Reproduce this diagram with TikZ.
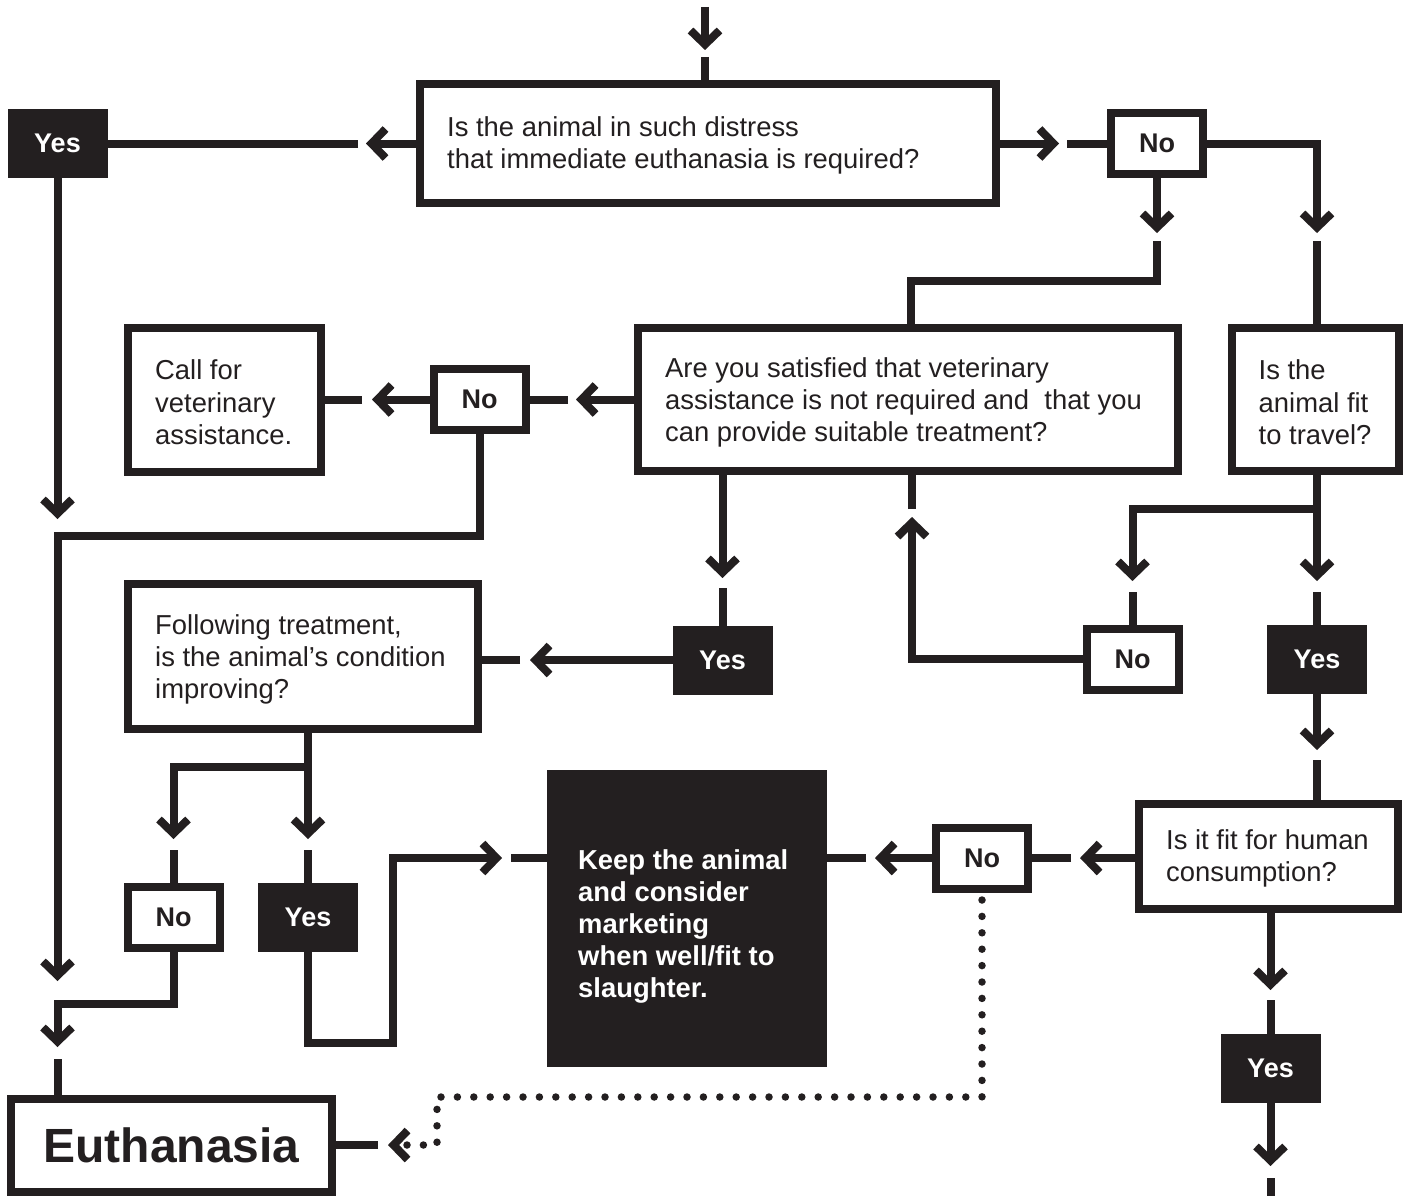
\documentclass[tikz,border=0pt]{standalone}
\usepackage{fontspec}
\setmainfont{Liberation Sans}
\usetikzlibrary{arrows.meta,calc}
\definecolor{ink}{RGB}{35,31,32}
\begin{document}
\begin{tikzpicture}[x=1pt,y=-1pt,
  ln/.style={draw=ink, line width=8pt},
  chev/.style={ln, -{Straight Barb[length=14pt,width=29pt,sharp]}},
  dots/.style={draw=ink, line width=7.5pt, line cap=round, dash pattern=on 0pt off 16.4pt,
     -{Straight Barb[length=14pt,width=29pt,sharp,line width=8pt]}},
  wbox/.style={draw=ink, line width=8pt, fill=white, inner sep=0pt},
  bbox/.style={draw=ink, line width=8pt, fill=ink, inner sep=0pt},
  small/.style={minimum width=92pt, minimum height=61pt, font=\bfseries\fontsize{27}{32}\selectfont},
  txt/.style={align=left, inner sep=0pt, text=ink, font=\fontsize{27.4}{32.3}\selectfont},
  wtxt/.style={align=left, inner sep=0pt, text=white, font=\bfseries\fontsize{27.4}{32}\selectfont}
]
\useasboundingbox (0,0) rectangle (1407,1196);

% ---------- boxes ----------
\node[wbox, minimum width=576pt, minimum height=119pt] (q1) at (708,143.5) {};
\node[txt, anchor=west] (q1t) at ([xshift=31pt,yshift=-2pt]q1.west) {Is the animal in such distress\\that immediate euthanasia is required?};

\node[bbox, small, text=white] (yes1) at (57.5,143.5) {Yes};
\node[wbox, small, text=ink] (no1) at (1157,143.5) {No};

\node[wbox, minimum width=540pt, minimum height=143pt] (q2) at (908,399.5) {};
\node[txt, anchor=west] (q2t) at ([xshift=31pt,yshift=-3pt]q2.west) {Are you satisfied that veterinary\\assistance is not required and~ that you\\can provide suitable treatment?};

\node[wbox, minimum width=167pt, minimum height=143pt] (q3) at (1315,399.5) {};
\node[txt, anchor=west] (q3t) at ([xshift=31pt,yshift=-3pt]q3.west) {Is the\\animal fit\\to travel?};

\node[wbox, minimum width=193pt, minimum height=144pt] (call) at (224.5,399.5) {};
\node[txt, anchor=west] (callt) at ([xshift=31pt,yshift=-3pt]call.west) {Call for\\veterinary\\assistance.};

\node[wbox, small, text=ink] (no2) at (479.5,399.5) {No};

\node[wbox, minimum width=350pt, minimum height=145pt] (follow) at (303,656.5) {};
\node[txt, anchor=west] (followt) at ([xshift=31pt,yshift=-3pt]follow.west) {Following treatment,\\is the animal’s condition\\improving?};

\node[bbox, small, text=white] (yes2) at (722.5,660) {Yes};
\node[wbox, small, text=ink] (no3) at (1132.5,659) {No};
\node[bbox, small, text=white] (yes3) at (1317,659) {Yes};

\node[wbox, minimum width=259pt, minimum height=105pt] (q4) at (1268.5,856.5) {};
\node[txt, anchor=west] (q4t) at ([xshift=31pt,yshift=-2pt]q4.west) {Is it fit for human\\consumption?};

\node[wbox, small, text=ink] (no4) at (982,858) {No};

\node[bbox, minimum width=272pt, minimum height=289pt] (keep) at (687,918.5) {};
\node[wtxt, anchor=west] (keept) at ([xshift=31pt,yshift=-8pt]keep.west) {Keep the animal\\and consider\\marketing\\when well/fit to\\slaughter.};

\node[wbox, small, text=ink] (no5) at (173.5,917.5) {No};
\node[bbox, small, text=white] (yes5) at (308,917.5) {Yes};
\node[bbox, small, text=white] (yes4) at (1270.5,1068.5) {Yes};

\node[wbox, minimum width=321pt, minimum height=93pt, text=ink,
      font=\bfseries\fontsize{48}{56}\selectfont] (euth) at (171.5,1145) {Euthanasia};

% ---------- connectors ----------
\coordinate (top) at (705,7);
\coordinate (out) at (1270.5,1196);

% entry
\draw[chev] (top) -- (705,50);
\draw[ln] (705,57) -- (q1.north -| top);

% Q1 -> Yes / No
\draw[chev] (q1.west) -- (366,143.5);
\draw[ln] (358,143.5) -- (yes1.east);
\draw[chev] (q1.east) -- (1059,143.5);
\draw[ln] (1067,143.5) -- (no1.west);

% No1 -> Q2
\draw[chev] (no1.south) -- (1157,233);
\draw[ln] (1157,241) -- (1157,280.5) -| ([xshift=3pt]q2.north);
% No1 -> Q3
\draw[chev] (no1.east) -| (1317,233);
\draw[ln] (1317,241) -- (q3.north -| yes3.north);

% Q2 -> No2 -> Call
\draw[chev] (q2.west) -- (576,399.5);
\draw[ln] (568,399.5) -- (no2.east);
\draw[chev] (no2.west) -- (372,399.5);
\draw[ln] (362,399.5) -- (call.east);

% Yes1 down
\draw[chev] (yes1.south) -- (57.5,519);
% No2 -> left column
\draw[chev] (no2.south) |- (57.5,535.5) -- (57.5,981);
% No5 -> Euthanasia
\draw[chev] (no5.south) |- (57.5,1003.5) -- (57.5,1047);
\draw[ln] (57.5,1059) -- (57.5,1098);

% Q2 -> Yes2 -> Following
\draw[chev] (q2.south -| yes2.north) -- (722.5,578);
\draw[ln] (722.5,588) -- (yes2.north);
\draw[chev] (yes2.west) -- (530,660);
\draw[ln] (520,660) -- (follow.east |- yes2.west);

% Following -> Yes5 / No5
\draw[chev] (follow.south -| yes5.north) -- (308,839);
\draw[ln] (308,850) -- (yes5.north);
\draw[chev] (308,767) -| (173.5,839);
\draw[ln] (173.5,850) -- (no5.north);

% Yes5 -> Keep
\draw[chev] (yes5.south) |- (393,1043) |- (502,858);
\draw[ln] (511,858) -- (keep.west |- no4.west);

% Q3 -> Yes3 / No3
\draw[chev] (q3.south -| yes3.north) -- (1317,581);
\draw[ln] (1317,592) -- (yes3.north);
\draw[chev] (1317,509) -| (1132.5,581);
\draw[ln] (1132.5,592) -- (no3.north);

% No3 -> Q2
\draw[chev] (no3.west) -| (912,517);
\draw[ln] (912,509) -- (912,471);

% Yes3 -> Q4
\draw[chev] (yes3.south) -- (1317,750);
\draw[ln] (1317,760) -- (q4.north -| yes3.south);

% Q4 -> No4 -> Keep
\draw[chev] (q4.west |- no4.east) -- (1080,858);
\draw[ln] (1071,858) -- (no4.east);
\draw[chev] (no4.west) -- (875,858);
\draw[ln] (866,858) -- (keep.east |- no4.west);

% Q4 -> Yes4 -> out
\draw[chev] (q4.south -| yes4.north) -- (1270.5,990);
\draw[ln] (1270.5,1000) -- (yes4.north);
\draw[chev] (yes4.south) -- (1270.5,1166);
\draw[ln] (1270.5,1178) -- (out);

% dotted: No4 -> Euthanasia
\draw[dots] (982,900) -- (982,1097) -- (437,1097) -- (437,1145) -- (388,1145);
\draw[ln] (378,1145) -- (euth.east);

\end{tikzpicture}
\end{document}
